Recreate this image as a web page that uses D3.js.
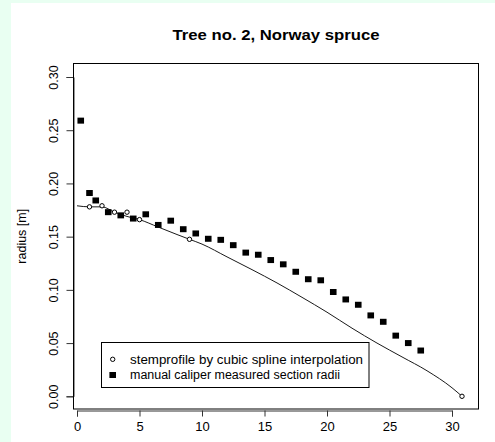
<!DOCTYPE html>
<html>
<head>
<meta charset="utf-8">
<script src="https://cdn.jsdelivr.net/npm/d3@7"></script>
<style>
    body { margin: 0; background: #e9fff2; }
    svg { display: block; }
    text { font-family: "Liberation Sans", Arial, sans-serif; fill: #000; }
</style>
</head>
<body>
<svg id="chart" width="495" height="442"></svg>
<script>
// manual caliper measured section radii (height [m], radius [m])
var caliperX = [0.3, 1.0, 1.5, 2.5, 3.5, 4.5, 5.5, 6.5, 7.5, 8.5, 9.5, 10.5, 11.5, 12.5, 13.5,
    14.5, 15.5, 16.5, 17.5, 18.5, 19.5, 20.5, 21.5, 22.5, 23.5, 24.5, 25.5, 26.5, 27.5];
var caliperR = [0.259, 0.191, 0.184, 0.173, 0.170, 0.167, 0.171, 0.161, 0.165, 0.157, 0.153, 0.148, 0.147, 0.142, 0.135,
    0.133, 0.128, 0.124, 0.117, 0.110, 0.109, 0.098, 0.091, 0.086, 0.076, 0.070, 0.057, 0.050, 0.043];

// spline knots (stemprofile points)
var knotX = [1, 2, 3, 4, 5, 9, 30.8];
var knotR = [0.178, 0.179, 0.173, 0.173, 0.166, 0.1475, 0.000];

// the stem curve
var curveX = [0, 1, 2, 3, 4, 5, 6.5, 8, 9, 10, 12, 14, 16, 18, 20, 22, 24, 26, 28, 30, 30.8];
var curveR = [0.179, 0.178, 0.178, 0.173, 0.169, 0.166, 0.159, 0.152, 0.1475, 0.143, 0.131, 0.119,
    0.1065, 0.093, 0.079, 0.064, 0.050, 0.037, 0.024, 0.008, 0.000];

var xTicks = [0, 5, 10, 15, 20, 25, 30];
var yTicks = [0, 0.05, 0.10, 0.15, 0.20, 0.25, 0.30];

var chartTitle = "Tree no. 2, Norway spruce";
var yTitle = "radius [m]";
var legendLabels = ["stemprofile by cubic spline interpolation", "manual caliper measured section radii"];

var svg = d3.select("#chart");

// white drawing area, mint border only on the left and top
svg.append("rect")
    .attr("x", 11).attr("y", 3)
    .attr("width", 484).attr("height", 439)
    .attr("fill", "#ffffff");

// plot box in pixels
var box = {left: 73.5, right: 478.5, top: 63.5, bottom: 409};

var xScale = d3.scaleLinear().domain([0, 30]).range([77, 452]);
var yScale = d3.scaleLinear().domain([0, 0.30]).range([396.3, 77]);

// title
svg.append("text")
    .attr("x", (box.left + box.right) / 2)
    .attr("y", 40)
    .attr("text-anchor", "middle")
    .attr("font-weight", "bold")
    .attr("font-size", 15)
    .attr("textLength", 207)
    .attr("lengthAdjust", "spacingAndGlyphs")
    .text(chartTitle);

// x axis, drawn a touch below the box like R does
var xAxis = d3.axisBottom(xScale)
    .tickValues(xTicks)
    .tickSize(6)
    .tickPadding(5)
    .tickFormat(d3.format("d"));
var gx = svg.append("g")
    .attr("transform", "translate(0," + 410.5 + ")")
    .call(xAxis);
gx.select(".domain").attr("stroke", "#333");
gx.selectAll(".tick line").attr("stroke", "#333");
gx.selectAll(".tick text")
    .attr("font-size", 13)
    .attr("font-family", "Liberation Sans, Arial, sans-serif")
    .attr("fill", "#000");

// y axis with rotated labels
var yAxis = d3.axisLeft(yScale)
    .tickValues(yTicks)
    .tickSize(7)
    .tickFormat(d3.format(".2f"));
var gy = svg.append("g")
    .attr("transform", "translate(" + box.left + ",0)")
    .call(yAxis);
gy.select(".domain").attr("stroke", "#333");
gy.selectAll(".tick line").attr("stroke", "#333");
gy.selectAll(".tick text")
    .attr("font-size", 12.5)
    .attr("font-family", "Liberation Sans, Arial, sans-serif")
    .attr("fill", "#000")
    .attr("text-anchor", "middle")
    .attr("x", 0).attr("dy", 0)
    .attr("transform", "translate(-16,0) rotate(-90)");

// y axis title
svg.append("text")
    .attr("transform", "translate(25.5," + ((box.top + box.bottom) / 2) + ") rotate(-90)")
    .attr("text-anchor", "middle")
    .attr("font-size", 12.5)
    .text(yTitle);

// plot frame
svg.append("rect")
    .attr("x", box.left).attr("y", box.top)
    .attr("width", box.right - box.left)
    .attr("height", box.bottom - box.top)
    .attr("fill", "none")
    .attr("stroke", "#000")
    .attr("stroke-width", 1);

// stem curve
var curve = curveX.map(function (d, i) { return [d, curveR[i]]; });
var line = d3.line()
    .curve(d3.curveMonotoneX)
    .x(function (d) { return xScale(d[0]); })
    .y(function (d) { return yScale(d[1]); });
svg.append("path")
    .datum(curve)
    .attr("d", line)
    .attr("fill", "none")
    .attr("stroke", "#1a1a1a")
    .attr("stroke-width", 1);

// caliper squares
svg.append("g").selectAll("rect")
    .data(caliperX)
    .enter().append("rect")
    .attr("x", function (d) { return xScale(d) - 3.3; })
    .attr("y", function (d, i) { return yScale(caliperR[i]) - 3; })
    .attr("width", 6.6)
    .attr("height", 6)
    .attr("fill", "#000");

// spline knots
svg.append("g").selectAll("circle")
    .data(knotX)
    .enter().append("circle")
    .attr("cx", function (d) { return xScale(d); })
    .attr("cy", function (d, i) { return yScale(knotR[i]); })
    .attr("r", 2.2)
    .attr("fill", "#fff")
    .attr("stroke", "#000")
    .attr("stroke-width", 1);

// legend
var legend = svg.append("g");
legend.append("rect")
    .attr("x", 101.5).attr("y", 342.5)
    .attr("width", 267.5).attr("height", 45)
    .attr("fill", "#fff")
    .attr("stroke", "#000")
    .attr("stroke-width", 1);
legend.append("circle")
    .attr("cx", 112.7).attr("cy", 359.3)
    .attr("r", 2.2)
    .attr("fill", "#fff")
    .attr("stroke", "#000");
legend.append("rect")
    .attr("x", 112.7 - 3.3).attr("y", 375 - 3)
    .attr("width", 6.6).attr("height", 6)
    .attr("fill", "#000");
legend.selectAll("text")
    .data(legendLabels)
    .enter().append("text")
    .attr("x", 130)
    .attr("y", function (d, i) { return 363.8 + i * 15.5; })
    .attr("font-size", 12.5)
    .attr("textLength", function (d, i) { return i === 0 ? 233 : 210; })
    .attr("lengthAdjust", "spacingAndGlyphs")
    .text(function (d) { return d; });
</script>
</body>
</html>
